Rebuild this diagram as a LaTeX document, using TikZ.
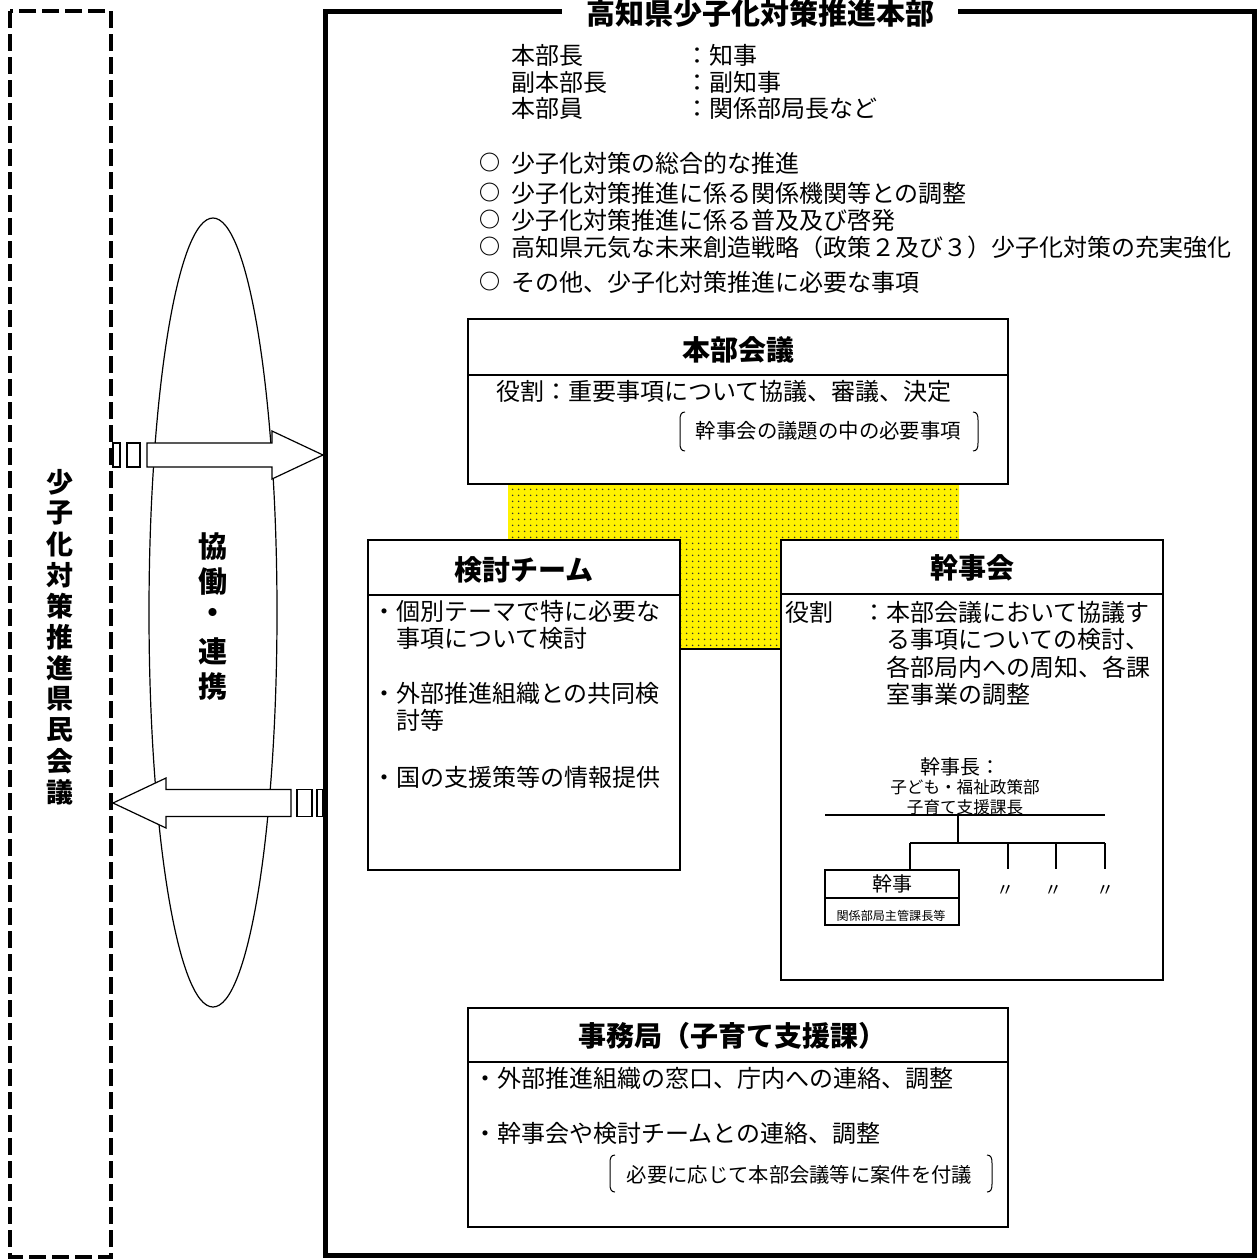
\documentclass[tikz,border=0pt]{standalone}
\usepackage{fontspec}
\setmainfont{Noto Sans CJK JP}
\usetikzlibrary{patterns}
\pgfdeclarepatternformonly{ydots}{\pgfqpoint{0pt}{0pt}}{\pgfqpoint{5.6pt}{5.6pt}}{\pgfqpoint{5.6pt}{5.6pt}}{%
  \pgfpathcircle{\pgfqpoint{2.8pt}{2.8pt}}{0.9pt}\pgfusepath{fill}}
\newcommand\myfs[1]{\fontsize{#1}{#1}\selectfont}
\newcommand\lbrk[3]{\draw[brk] (#1+5,#2) .. controls (#1+1,#2) and (#1,#2+3) .. (#1,#2+8) -- (#1,#3-8) .. controls (#1,#3-3) and (#1+1,#3) .. (#1+5,#3);}
\newcommand\rbrk[3]{\draw[brk] (#1-5,#2) .. controls (#1-1,#2) and (#1,#2+3) .. (#1,#2+8) -- (#1,#3-8) .. controls (#1,#3-3) and (#1-1,#3) .. (#1-5,#3);}
\begin{document}
\begin{tikzpicture}[x=1pt,y=-1pt,
  tx/.style={inner sep=0pt, anchor=west, font=\myfs{24}},
  tc/.style={inner sep=0pt, font=\myfs{24}},
  ttl/.style={inner sep=0pt, font=\bfseries\myfs{28}},
  box/.style={draw, line width=1.5pt, fill=white, inner sep=0pt},
  divider/.style={line width=1.5pt},
  tree/.style={line width=1.8pt},
  arr/.style={draw, line width=1.2pt, fill=white, line join=miter},
  brk/.style={line width=1pt},
  vt/.style={inner sep=0pt, font=\bfseries\myfs{27}},
  bul/.style={inner sep=0pt, font=\bfseries\myfs{21}},
]
\useasboundingbox (0,0) rectangle (1260,1258);

% outer dashed frame (prefectural council)
\draw[line width=3.6pt, dash pattern=on 17pt off 6pt] (10,11) rectangle (111,1257);
\foreach \c [count=\i from 0] in {少,子,化,対,策,推,進,県,民,会,議}
  \node[vt] (kv\i) at (60,{482+31*\i}) {\c};

% ellipse with cooperation text
\draw[line width=1.2pt, fill=white] (213,612.5) ellipse [x radius=64pt, y radius=394.5pt];
\node[vt, font=\bfseries\myfs{29}] (e1) at (213,547) {協};
\node[vt, font=\bfseries\myfs{29}] (e2) at (213,582) {働};
\node[vt, font=\bfseries\myfs{29}] (e3) at (213,616) {・};
\node[vt, font=\bfseries\myfs{29}] (e4) at (213,651) {連};
\node[vt, font=\bfseries\myfs{29}] (e5) at (213,686) {携};

% striped arrows
\draw[arr] (147,443) -- (272,443) -- (272,431) -- (323,455) -- (272,479) -- (272,467) -- (147,467) -- cycle;
\draw[arr] (127,443) rectangle (140,467);
\draw[arr] (113,443) rectangle (120,467);
\draw[arr] (113,803) -- (166,778) -- (166,789.5) -- (291,789.5) -- (291,816.5) -- (166,816.5) -- (166,828) -- cycle;
\draw[arr] (297,789.5) rectangle (312,816.5);
\draw[arr] (317,789.5) rectangle (323,816.5);

% main frame
\draw[line width=5pt] (325,11) rectangle (1254,1255);
\node[fill=white, inner xsep=24pt, inner ysep=2pt, font=\bfseries\myfs{29}] (title) at (760,13) {高知県少子化対策推進本部};

% members
\node[tx] (m1) at (511,55) {本部長};
\node[tx] (m1v) at (685,55) {：知事};
\node[tx] (m2) at (511,82) {副本部長};
\node[tx] (m2v) at (685,82) {：副知事};
\node[tx] (m3) at (511,108) {本部員};
\node[tx] (m3v) at (685,108) {：関係部局長など};

% duties
\node[bul] (o1) at (490,163) {○};
\node[tx] (d1) at (511,163) {少子化対策の総合的な推進};
\node[bul] (o2) at (490,193) {○};
\node[tx] (d2) at (511,193) {少子化対策推進に係る関係機関等との調整};
\node[bul] (o3) at (490,220) {○};
\node[tx] (d3) at (511,220) {少子化対策推進に係る普及及び啓発};
\node[bul] (o4) at (490,247) {○};
\node[tx] (d4) at (511,247) {高知県元気な未来創造戦略（政策２及び３）少子化対策の充実強化};
\node[bul] (o5) at (490,282) {○};
\node[tx] (d5) at (511,282) {その他、少子化対策推進に必要な事項};

% yellow dotted T
\path[fill=yellow] (508,484) -- (959,484) -- (959,540) -- (781,540) -- (781,649) -- (680,649) -- (680,540) -- (508,540) -- cycle;
\path[pattern=ydots, pattern color=black!80] (508,484) -- (959,484) -- (959,540) -- (781,540) -- (781,649) -- (680,649) -- (680,540) -- (508,540) -- cycle;
\draw[divider] (680,649) -- (781,649);

% 本部会議
\node[box, minimum width=540pt, minimum height=165pt] (hb) at (738,401.5) {};
\draw[divider] (hb.west |- 0,375) -- (hb.east |- 0,375);
\node[ttl] (hbt) at (738,350) {本部会議};
\node[tx] (hbr) at (496,391) {役割：重要事項について協議、審議、決定};
\node[tc, font=\myfs{20.4}] (hbn) at (828.5,431) {幹事会の議題の中の必要事項};
\lbrk{680}{412}{451}
\rbrk{978}{412}{451}

% 検討チーム
\node[box, minimum width=312pt, minimum height=330pt] (kt) at (524,705) {};
\draw[divider] (kt.west |- 0,595) -- (kt.east |- 0,595);
\node[ttl] (ktt) at (524,570) {検討チーム};
\node[tx] (k1) at (372,611) {・個別テーマで特に必要な};
\node[tx] (k1b) at (396,638) {事項について検討};
\node[tx] (k2) at (372,693) {・外部推進組織との共同検};
\node[tx] (k2b) at (396,720) {討等};
\node[tx] (k3) at (372,777) {・国の支援策等の情報提供};

% 幹事会
\node[box, minimum width=382pt, minimum height=440pt] (kj) at (972,760) {};
\draw[divider] (kj.west |- 0,594) -- (kj.east |- 0,594);
\node[ttl] (kjt) at (972,568) {幹事会};
\node[tx] (r0) at (785,612) {役割};
\node[tx] (r1) at (862,612) {：本部会議において協議す};
\node[tx] (r2) at (886,639) {る事項についての検討、};
\node[tx] (r3) at (886,667) {各部局内への周知、各課};
\node[tx] (r4) at (886,694) {室事業の調整};
\node[tc, font=\myfs{20}] (kc) at (960,767) {幹事長：};
\node[tc, font=\myfs{16.6}] (kc2) at (965,787) {子ども・福祉政策部};
\node[tc, font=\myfs{16.6}] (kc3) at (965,807) {子育て支援課長};

% tree
\coordinate (hL) at (825,815);
\coordinate (hR) at (1105,815);
\coordinate (hM) at (958,815);
\coordinate (bM) at (958,843);
\coordinate (b1) at (910,843);
\coordinate (b2) at (1008,843);
\coordinate (b3) at (1056,843);
\coordinate (b4) at (1105,843);
\node[box, line width=1.8pt, minimum width=134pt, minimum height=55pt] (kb) at (892,897.5) {};
\draw[tree] (kb.west |- 0,898) -- (kb.east |- 0,898);
\node[tc, font=\myfs{20}] (kbt) at (892,884) {幹事};
\node[tc, font=\myfs{12.1}] (kbs) at (891,916) {関係部局主管課長等};
\draw[tree] (hL) -- (hR);
\draw[tree] (hM) -- (bM);
\draw[tree] (b1) -- (b4);
\draw[tree] (b1) -- (b1 |- kb.north);
\coordinate (d2) at (1008,869);
\coordinate (d3) at (1056,869);
\coordinate (d4) at (1105,869);
\draw[tree] (b2) -- (d2);
\draw[tree] (b3) -- (d3);
\draw[tree] (b4) -- (d4);
\node[tc, font=\myfs{18}] (q2) at (1005,891) {〃};
\node[tc, font=\myfs{18}] (q3) at (1053,891) {〃};
\node[tc, font=\myfs{18}] (q4) at (1105,891) {〃};

% 事務局
\node[box, minimum width=540pt, minimum height=219pt] (jm) at (738,1117.5) {};
\draw[divider] (jm.west |- 0,1062) -- (jm.east |- 0,1062);
\node[ttl] (jmt) at (732,1036) {事務局（子育て支援課）};
\node[tx] (j1) at (473,1078) {・外部推進組織の窓口、庁内への連絡、調整};
\node[tx] (j2) at (473,1133) {・幹事会や検討チームとの連絡、調整};
\node[tc, font=\myfs{20.3}] (j3) at (799.5,1175) {必要に応じて本部会議等に案件を付議};
\lbrk{610}{1155}{1192}
\rbrk{992}{1155}{1192}
\end{tikzpicture}
\end{document}
